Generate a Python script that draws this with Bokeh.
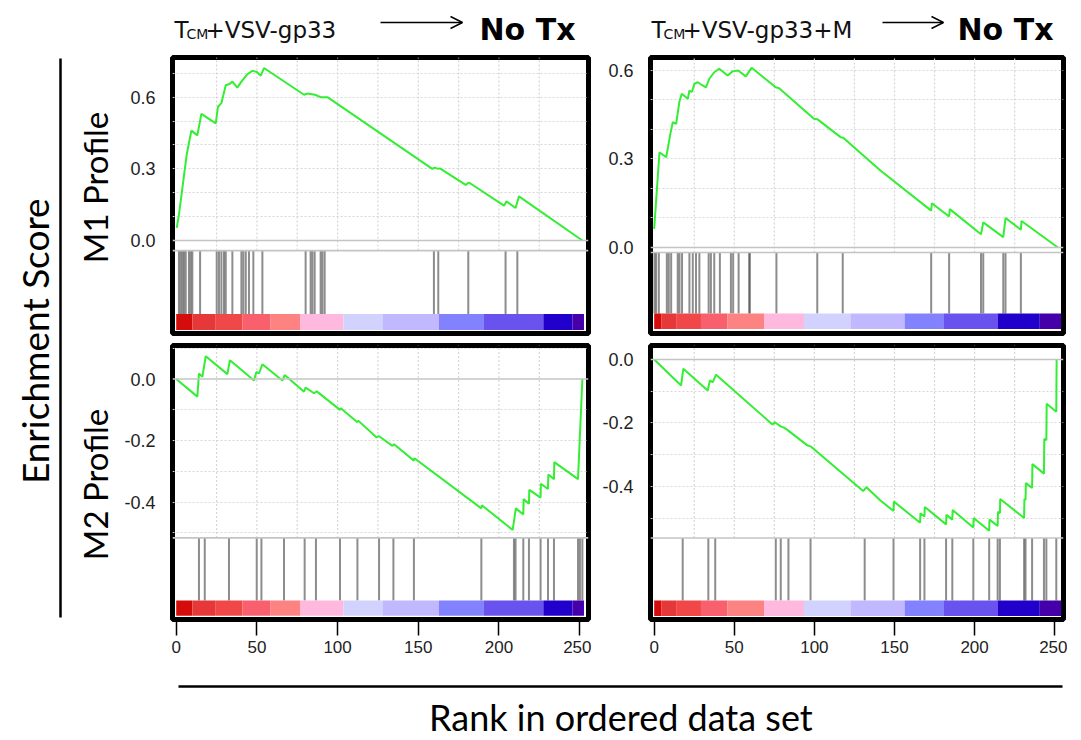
import numpy as np
from bokeh.plotting import figure
from bokeh.layouts import row, column
from bokeh.models import Range1d, FixedTicker, Arrow, OpenHead, Span, PrintfTickFormatter
from bokeh.embed import file_html
from bokeh.resources import INLINE
from bokeh.core.properties import value

# ---------------- data ----------------
x_ticks = [0, 50, 100, 150, 200, 250]
top_yticks = [0.0, 0.3, 0.6]
bot_yticks = [0.0, -0.2, -0.4]
x_grid = [25, 50, 75, 100, 125, 150, 175, 200, 225]

# M1 profile, TCM+VSV-gp33 -> No Tx
TL_rank = [0.3, 1.7, 6.5, 9.4, 13.1, 15.6, 24.5, 25.9, 28.0, 30.7, 33.0, 34.8, 37.9, 40.4, 44.1,
           47.2, 50.0, 52.4, 54.4, 79.2, 81.3, 86.0, 89.5, 93.7, 158.7, 160.0, 162.5, 163.4,
           179.4, 181.4, 203.1, 204.7, 210.3, 212.4, 251.7]
TL_es = [0.053, 0.108, 0.36, 0.46, 0.44, 0.53, 0.49, 0.56, 0.575, 0.65, 0.655, 0.665, 0.64, 0.665, 0.696,
         0.71, 0.705, 0.69, 0.722, 0.61, 0.615, 0.61, 0.60, 0.60, 0.30, 0.305, 0.30, 0.302,
         0.233, 0.243, 0.146, 0.164, 0.136, 0.185, 0.0]
TL_hits = [1.7, 2.8, 3.8, 4.8, 5.9, 7.9, 9.0, 10.0, 14.8, 25.1, 26.5, 28.0, 29.6, 30.7, 34.8,
           40.4, 41.6, 43.1, 45.1, 47.8, 53.4, 80.2, 83.3, 84.4, 85.8, 89.5, 90.6, 92.0,
           159.7, 162.4, 181.0, 204.1, 211.4]

# M1 profile, TCM+VSV-gp33+M -> No Tx
TR_rank = [0.0, 3.3, 7.5, 10.1, 11.6, 13.7, 15.7, 17.2, 21.0, 22.0, 23.5, 25.1, 27.2, 30.0, 32.3,
           34.4, 37.5, 40.6, 45.8, 48.9, 52.4, 57.2, 60.8, 75.9, 78.0, 99.7, 101.8, 116.3, 118.0,
           141.2, 172.9, 173.3, 184.1, 184.5, 204.0, 205.4, 217.9, 219.3, 228.9, 229.3, 252.0]
TR_es = [0.063, 0.323, 0.306, 0.385, 0.425, 0.419, 0.493, 0.521, 0.504, 0.532, 0.527, 0.555, 0.56, 0.55, 0.543,
         0.572, 0.594, 0.606, 0.583, 0.597, 0.60, 0.58, 0.609, 0.543, 0.54, 0.436, 0.435, 0.374, 0.372,
         0.261, 0.125, 0.15, 0.105, 0.13, 0.045, 0.085, 0.035, 0.10, 0.06, 0.09, 0.0]
TR_hits = [0.2, 1.2, 2.9, 7.9, 9.1, 10.6, 14.7, 15.8, 17.4, 22.0, 24.1, 26.1, 28.2, 34.0, 35.4,
           37.5, 41.0, 47.9, 49.3, 52.7, 59.3, 59.7, 76.3, 101.8, 117.7, 172.9, 184.1, 204.0,
           205.4, 217.9, 219.3, 228.9]

# M2 profile, TCM+VSV-gp33 -> No Tx
BL_rank = [0.0, 13.1, 14.1, 16.2, 18.3, 31.7, 33.3, 48.2, 49.7, 51.3, 53.4, 65.8, 67.2, 79.2, 80.2,
           85.4, 87.1, 101.5, 102.0, 112.3, 112.8, 124.2, 125.5, 134.0, 135.0, 147.3, 147.6, 189.1,
           189.4, 208.5, 210.5, 215.1, 215.3, 218.6, 218.8, 225.8, 226.0, 230.4, 230.6, 234.1,
           234.3, 249.0, 251.7]
BL_es = [0.0, -0.057, 0.018, 0.007, 0.074, 0.016, 0.061, -0.005, 0.023, 0.018, 0.048, -0.005, 0.013, -0.041, -0.028,
         -0.046, -0.040, -0.10, -0.095, -0.14, -0.135, -0.19, -0.185, -0.217, -0.212, -0.265, -0.257, -0.42,
         -0.41, -0.49, -0.42, -0.44, -0.39, -0.405, -0.36, -0.385, -0.34, -0.357, -0.31, -0.325,
         -0.27, -0.325, 0.0]
BL_hits = [14.1, 17.7, 32.7, 49.9, 52.8, 66.8, 79.6, 86.6, 101.5, 112.3, 125.7, 134.6, 147.3, 189.1,
           209.3, 210.3, 215.1, 218.6, 225.8, 230.4, 234.1, 249.0, 250.2, 251.7]

# M2 profile, TCM+VSV-gp33+M -> No Tx
BR_rank = [0.0, 16.8, 18.2, 33.4, 34.8, 36.5, 38.6, 73.8, 75.3, 79.0, 81.0, 83.1, 95.6, 97.6,
           130.4, 132.5, 141.2, 149.4, 149.6, 166.0, 166.2, 168.7, 168.9, 182.2, 182.4, 186.1,
           186.3, 199.2, 199.4, 209.1, 209.3, 214.4, 214.6, 215.8, 216.0, 230.9, 231.1, 231.8,
           232.0, 235.9, 236.1, 243.3, 243.5, 244.8, 245.0, 251.0, 251.2]
BR_es = [0.0, -0.082, -0.029, -0.098, -0.066, -0.072, -0.048, -0.205, -0.198, -0.211, -0.215, -0.222, -0.271, -0.274,
         -0.415, -0.403, -0.445, -0.478, -0.448, -0.515, -0.485, -0.495, -0.465, -0.52, -0.49, -0.505,
         -0.475, -0.53, -0.50, -0.54, -0.505, -0.525, -0.48, -0.485, -0.44, -0.50, -0.44, -0.443,
         -0.39, -0.405, -0.33, -0.36, -0.25, -0.255, -0.14, -0.165, 0.0]
BR_hits = [17.8, 33.8, 38.1, 75.9, 79.0, 83.8, 97.6, 131.4, 149.4, 166.0, 168.7, 182.2, 186.1,
           199.2, 209.1, 214.4, 215.8, 230.9, 231.8, 235.9, 243.3, 244.8, 251.0]

# ranked-list colour bar (bins)
LEFT_CB_EDGES = [0, 10, 24.5, 41, 58.5, 77, 103.6, 127.8, 162.8, 190.7, 227.5, 245.5, 252.7]
RIGHT_CB_EDGES = [0, 4.4, 13.7, 29.2, 45.8, 68.6, 93.5, 122.5, 156.3, 180.5, 214.3, 240.7, 254]
CB_COLORS = ["#d40c0c", "#e63838", "#f04848", "#f7606c", "#fd8282", "#ffb8de",
             "#d2d2ff", "#c2b8ff", "#8282ff", "#6a52ee", "#2200cc", "#4600aa"]

GREEN = "#33ee33"
TICK_FONT = "Liberation Sans"
BIG_FONT = "Lato"


def panel(rank, es, hits, edges, yr, es_bottom, cb_top, cb_bottom, grid_y, yticks,
          show_x, mb_left, frame_w, frame_h, mb_top, mb_bottom, mb_right):
    p = figure(width=mb_left + frame_w + mb_right, height=mb_top + frame_h + mb_bottom,
               x_range=Range1d(-2.3, 255.5), y_range=Range1d(yr[0], yr[1]),
               output_backend="svg", toolbar_location=None,
               min_border_left=mb_left, min_border_right=mb_right,
               min_border_top=mb_top, min_border_bottom=mb_bottom)
    p.outline_line_color = "black"
    p.outline_line_width = 5
    p.xgrid.visible = False
    p.ygrid.ticker = FixedTicker(ticks=grid_y)
    p.ygrid.grid_line_color = "#d6d6d6"
    p.ygrid.grid_line_dash = "2 2"
    p.ygrid.grid_line_width = 1.2
    # vertical dotted grid limited to ES region
    p.segment(x0=x_grid, y0=[es_bottom] * len(x_grid), x1=x_grid, y1=[yr[1]] * len(x_grid),
              line_color="#d6d6d6", line_dash="2 2", line_width=1.2)
    p.add_layout(Span(location=0, dimension="width", line_color="#c4c4c4", line_width=1.6))
    p.add_layout(Span(location=es_bottom, dimension="width", line_color="#c4c4c4", line_width=1.6))
    # barcode
    p.segment(x0=hits, y0=[es_bottom] * len(hits), x1=hits, y1=[cb_top] * len(hits),
              line_color="#505050", line_alpha=0.65, line_width=2)
    # colour bar
    p.quad(left=edges[:-1], right=edges[1:], bottom=cb_bottom, top=cb_top,
           fill_color=CB_COLORS, line_color=None)
    # running enrichment score
    p.line(rank, es, line_color=GREEN, line_width=2)

    p.yaxis.ticker = FixedTicker(ticks=yticks)
    p.yaxis.formatter = PrintfTickFormatter(format="%.1f")
    p.yaxis.axis_line_color = None
    p.yaxis.major_tick_line_color = None
    p.yaxis.minor_tick_line_color = None
    p.yaxis.major_tick_out = 0
    p.yaxis.major_tick_in = 0
    p.yaxis.major_label_standoff = 17
    p.yaxis.major_label_text_font = TICK_FONT
    p.yaxis.major_label_text_font_size = "18px"
    p.yaxis.major_label_text_color = "#222222"
    if show_x:
        p.xaxis.ticker = FixedTicker(ticks=x_ticks)
        p.xaxis.axis_line_color = None
        p.xaxis.minor_tick_line_color = None
        p.xaxis.major_tick_line_color = "black"
        p.xaxis.major_tick_line_width = 1.5
        p.xaxis.major_tick_out = 16
        p.xaxis.major_tick_in = 0
        p.xaxis.major_label_standoff = 5
        p.xaxis.major_label_text_font = TICK_FONT
        p.xaxis.major_label_text_font_size = "17px"
        p.xaxis.major_label_text_color = "#222222"
    else:
        p.xaxis.visible = False
    return p


TL = panel(TL_rank, TL_es, TL_hits, LEFT_CB_EDGES, (-0.389, 0.766), -0.042, -0.3075, -0.3745,
           [0.1, 0.2, 0.3, 0.4, 0.5, 0.6, 0.7], top_yticks, False, 52, 416, 276, 3, 4, 3)
BL = panel(BL_rank, BL_es, BL_hits, LEFT_CB_EDGES, (-0.781, 0.109), -0.516, -0.719, -0.769,
           [0.1, -0.1, -0.2, -0.3, -0.4, -0.5], bot_yticks, True, 52, 416, 274, 8, 45, 3)
TR = panel(TR_rank, TR_es, TR_hits, RIGHT_CB_EDGES, (-0.2915, 0.644), -0.017, -0.224, -0.276,
           [0.1, 0.2, 0.3, 0.4, 0.5, 0.6], top_yticks, False, 59, 413, 276, 3, 4, 4)
BR = panel(BR_rank, BR_es, BR_hits, RIGHT_CB_EDGES, (-0.820, 0.044), -0.563, -0.760, -0.809,
           [-0.1, -0.2, -0.3, -0.4, -0.5], bot_yticks, True, 59, 413, 274, 8, 45, 4)


def blank(w, h, xr, yr):
    f = figure(width=w, height=h, x_range=Range1d(*xr), y_range=Range1d(*yr),
               output_backend="svg", toolbar_location=None, min_border=0)
    f.axis.visible = False
    f.grid.visible = False
    f.outline_line_color = None
    return f


# title strip (page coordinates)
tf = blank(1067, 54, (0, 1067), (54, 0))
for x0, main, arr, notx in [(174, "+VSV-gp33", (380, 462), 527), (651, "+VSV-gp33+M", (882, 943), 1005)]:
    tf.text(x=[x0], y=[29], text=["T"], text_font=value("DejaVu Sans"), text_font_size="23px",
            text_baseline="alphabetic", text_align="left", text_color="#111111")
    tf.text(x=[x0 + 12], y=[33], text=["CM"], text_font=value("DejaVu Sans"), text_font_size="14px",
            text_baseline="alphabetic", text_align="left", text_color="#111111")
    tf.text(x=[x0 + 31], y=[29], text=[main], text_font=value("DejaVu Sans"), text_font_size="23px",
            text_baseline="alphabetic", text_align="left", text_color="#111111")
    tf.add_layout(Arrow(x_start=arr[0], y_start=22, x_end=arr[1], y_end=22, line_width=1.5,
                        end=OpenHead(size=12, line_width=1.5, line_color="black")))
    tf.text(x=[notx], y=[29], text=["No Tx"], text_font=value("DejaVu Sans"), text_font_size="30px",
            text_font_style="bold", text_baseline="alphabetic", text_align="center", text_color="black")

# side labels
sf = blank(120, 610, (0, 120), (664, 54))
sf.segment(x0=[60], y0=[58], x1=[60], y1=[617], line_color="black", line_width=2.5)
sf.text(x=[34], y=[336], text=["Enrichment  Score"], angle=np.pi / 2, text_font=value(BIG_FONT),
        text_font_size="37px", text_align="center", text_baseline="middle", text_color="black")
sf.text(x=[94], y=[187], text=["M1 Profile"], angle=np.pi / 2, text_font=value(BIG_FONT),
        text_font_size="33px", text_align="center", text_baseline="middle", text_color="black")
sf.text(x=[94], y=[484], text=["M2 Profile"], angle=np.pi / 2, text_font=value(BIG_FONT),
        text_font_size="33px", text_align="center", text_baseline="middle", text_color="black")

# bottom label
bf = blank(1075, 74, (0, 1075), (738, 664))
bf.segment(x0=[178], y0=[686], x1=[1062], y1=[686], line_color="black", line_width=2.5)
bf.text(x=[625], y=[716], text=["Rank in ordered  data set"], text_font=value(BIG_FONT),
        text_font_size="36px", text_align="center", text_baseline="middle", text_color="black")

layout = column(tf, row(sf, column(TL, BL), column(TR, BR)), bf)
open("out.html", "w").write(file_html(layout, INLINE))
